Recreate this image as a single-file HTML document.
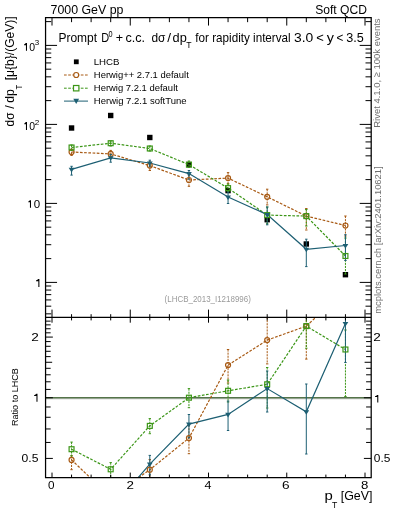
<!DOCTYPE html>
<html><head><meta charset="utf-8"><style>
html,body{margin:0;padding:0;background:#fff;width:393px;height:512px;overflow:hidden}
svg{display:block;will-change:transform}
text{font-family:"Liberation Sans",sans-serif}
</style></head><body>
<svg width="393" height="512" viewBox="0 0 393 512">
<text x="50.57" y="13.7" font-size="12.6" fill="#000" textLength="72.85" lengthAdjust="spacingAndGlyphs">7000 GeV pp</text>
<text x="315.15" y="13.9" font-size="12.6" fill="#000" textLength="51.73" lengthAdjust="spacingAndGlyphs">Soft QCD</text>
<path d="M27.00 43.00V50.80H25.95V45.18H24.06V44.40Q25.35 43.94 25.80 43.00Z" fill="#000"/>
<text x="29.19" y="50.8" font-size="11.55" fill="#000" textLength="5.82" lengthAdjust="spacingAndGlyphs">0</text>
<text x="34.89" y="44.9" font-size="7.98" fill="#000" textLength="4.46" lengthAdjust="spacingAndGlyphs">3</text>
<path d="M27.00 122.10V130.00H25.95V124.31H24.30V123.52Q25.35 123.05 25.80 122.10Z" fill="#000"/>
<text x="29.19" y="130.0" font-size="11.55" fill="#000" textLength="5.82" lengthAdjust="spacingAndGlyphs">0</text>
<text x="34.89" y="124.9" font-size="7.98" fill="#000" textLength="4.52" lengthAdjust="spacingAndGlyphs">2</text>
<path d="M31.00 200.20V207.80H29.95V202.33H28.30V201.57Q29.35 201.11 29.80 200.20Z" fill="#000"/>
<text x="33.75" y="207.8" font-size="11.55" fill="#000" textLength="6.40" lengthAdjust="spacingAndGlyphs">0</text>
<path d="M39.40 279.10V286.90H38.35V281.28H36.00V280.50Q37.75 280.04 38.20 279.10Z" fill="#000"/>
<text x="31.22" y="341.0" font-size="11.55" fill="#000" textLength="7.57" lengthAdjust="spacingAndGlyphs">2</text>
<path d="M37.50 393.70V401.80H36.45V395.97H34.10V395.16Q35.85 394.67 36.30 393.70Z" fill="#000"/>
<text x="21.53" y="462.0" font-size="11.55" fill="#000" textLength="16.88" lengthAdjust="spacingAndGlyphs">0.5</text>
<text x="373.22" y="340.7" font-size="11.55" fill="#000" textLength="7.57" lengthAdjust="spacingAndGlyphs">2</text>
<path d="M378.30 394.90V402.60H377.25V397.06H375.00V396.29Q376.65 395.82 377.10 394.90Z" fill="#000"/>
<text x="373.83" y="462.1" font-size="11.55" fill="#000" textLength="16.57" lengthAdjust="spacingAndGlyphs">0.5</text>
<text x="47.94" y="488.7" font-size="10.92" fill="#000" textLength="6.52" lengthAdjust="spacingAndGlyphs">0</text>
<text x="126.63" y="488.7" font-size="10.92" fill="#000" textLength="7.45" lengthAdjust="spacingAndGlyphs">2</text>
<text x="204.41" y="488.7" font-size="10.92" fill="#000" textLength="6.95" lengthAdjust="spacingAndGlyphs">4</text>
<text x="282.11" y="488.7" font-size="10.92" fill="#000" textLength="7.59" lengthAdjust="spacingAndGlyphs">6</text>
<text x="361.03" y="488.7" font-size="10.92" fill="#000" textLength="7.35" lengthAdjust="spacingAndGlyphs">8</text>
<text x="58.47" y="41.7" font-size="12.18" fill="#000" textLength="38.62" lengthAdjust="spacingAndGlyphs">Prompt</text>
<text x="101.20" y="41.7" font-size="12.18" fill="#000" textLength="7.93" lengthAdjust="spacingAndGlyphs">D</text>
<text x="108.51" y="37.300000000000004" font-size="8.4" fill="#000" textLength="4.07" lengthAdjust="spacingAndGlyphs">0</text>
<text x="115.79" y="41.7" font-size="12.18" fill="#000" textLength="7.33" lengthAdjust="spacingAndGlyphs">+</text>
<text x="125.47" y="41.7" font-size="12.18" fill="#000" textLength="19.58" lengthAdjust="spacingAndGlyphs">c.c.</text>
<text x="151.50" y="41.7" font-size="12.18" fill="#000" textLength="13.98" lengthAdjust="spacingAndGlyphs">dσ</text>
<text x="167.20" y="41.7" font-size="12.18" fill="#000" textLength="3.80" lengthAdjust="spacingAndGlyphs">/</text>
<text x="172.57" y="41.7" font-size="12.18" fill="#000" textLength="14.17" lengthAdjust="spacingAndGlyphs">dp</text>
<text x="186.21" y="48.4" font-size="8.19" fill="#000" textLength="5.29" lengthAdjust="spacingAndGlyphs">T</text>
<text x="195.33" y="41.7" font-size="12.18" fill="#000" textLength="95.35" lengthAdjust="spacingAndGlyphs">for rapidity interval</text>
<text x="294.07" y="41.7" font-size="12.18" fill="#000" textLength="19.27" lengthAdjust="spacingAndGlyphs">3.0</text>
<text x="316.26" y="41.7" font-size="12.18" fill="#000" textLength="7.57" lengthAdjust="spacingAndGlyphs">&lt;</text>
<text x="326.67" y="41.7" font-size="12.18" fill="#000" textLength="7.16" lengthAdjust="spacingAndGlyphs">y</text>
<text x="336.42" y="41.7" font-size="12.18" fill="#000" textLength="6.85" lengthAdjust="spacingAndGlyphs">&lt;</text>
<text x="346.22" y="41.7" font-size="12.18" fill="#000" textLength="17.51" lengthAdjust="spacingAndGlyphs">3.5</text>
<text x="93.71" y="64.9" font-size="9.77" fill="#000" textLength="25.80" lengthAdjust="spacingAndGlyphs">LHCB</text>
<text x="93.83" y="77.9" font-size="9.77" fill="#000" textLength="94.94" lengthAdjust="spacingAndGlyphs">Herwig++ 2.7.1 default</text>
<text x="93.82" y="91.1" font-size="9.77" fill="#000" textLength="84.04" lengthAdjust="spacingAndGlyphs">Herwig 7.2.1 default</text>
<text x="93.82" y="103.9" font-size="9.77" fill="#000" textLength="92.80" lengthAdjust="spacingAndGlyphs">Herwig 7.2.1 softTune</text>
<rect x="73.89999999999999" y="59.4" width="4.8" height="4.8" fill="#000"/>
<path d="M64 75.0H88" stroke="#a85a14" stroke-width="1" stroke-dasharray="2.7 1.5" fill="none"/>
<circle cx="76.2" cy="75.0" r="2.5" fill="#fff" stroke="#a85a14" stroke-width="1.2"/>
<path d="M64 88.2H88" stroke="#3c9618" stroke-width="1" stroke-dasharray="2.7 1.5" fill="none"/>
<rect x="73.5" y="85.5" width="5.4" height="5.4" fill="#fff" stroke="#3c9618" stroke-width="1.2"/>
<path d="M64 101.1H88" stroke="#1d5f73" stroke-width="1" fill="none"/>
<path d="M73.3 98.69999999999999H79.10000000000001L76.2 103.89999999999999Z" fill="#1d5f73"/>
<text transform="translate(380.2 0) rotate(-90)" x="-127.78" y="0" font-size="9.87" fill="#6e6e6e" textLength="109.32" lengthAdjust="spacingAndGlyphs">Rivet 4.1.0, ≥ 100k events</text>
<text transform="translate(380.6 0) rotate(-90)" x="-313.82" y="0" font-size="9.87" fill="#6e6e6e" textLength="147.50" lengthAdjust="spacingAndGlyphs">mcplots.cern.ch [arXiv:2401.10621]</text>
<text transform="translate(13.9 0) rotate(-90)" x="-126.40" y="0" font-size="12.6" fill="#000" textLength="13.88" lengthAdjust="spacingAndGlyphs">dσ</text>
<text transform="translate(13.9 0) rotate(-90)" x="-108.80" y="0" font-size="12.6" fill="#000" textLength="3.60" lengthAdjust="spacingAndGlyphs">/</text>
<text transform="translate(13.9 0) rotate(-90)" x="-102.81" y="0" font-size="12.6" fill="#000" textLength="13.52" lengthAdjust="spacingAndGlyphs">dp</text>
<text transform="translate(21.5 0) rotate(-90)" x="-89.47" y="0" font-size="9.03" fill="#000" textLength="4.75" lengthAdjust="spacingAndGlyphs">T</text>
<text transform="translate(13.9 0) rotate(-90)" x="-80.26" y="0" font-size="12.6" fill="#000" textLength="63.92" lengthAdjust="spacingAndGlyphs">[μ{b}/(GeV)]</text>
<text transform="translate(18.4 0) rotate(-90)" x="-426.04" y="0" font-size="9.45" fill="#000" textLength="57.92" lengthAdjust="spacingAndGlyphs">Ratio to LHCB</text>
<text x="324.44" y="500.3" font-size="12.39" fill="#000" textLength="8.29" lengthAdjust="spacingAndGlyphs">p</text>
<text x="331.91" y="507.8" font-size="8.51" fill="#000" textLength="5.29" lengthAdjust="spacingAndGlyphs">T</text>
<text x="340.71" y="500.3" font-size="12.39" fill="#000" textLength="31.77" lengthAdjust="spacingAndGlyphs">[GeV]</text>
<text x="164.61" y="302.0" font-size="8.29" fill="#9a9a9a" textLength="86.19" lengthAdjust="spacingAndGlyphs">(LHCB_2013_I1218996)</text>
<g>
<rect x="68.86" y="125.30" width="5.4" height="5.4" fill="#000"/>
<rect x="107.99" y="112.80" width="5.4" height="5.4" fill="#000"/>
<rect x="147.11" y="134.80" width="5.4" height="5.4" fill="#000"/>
<rect x="186.24" y="161.90" width="5.4" height="5.4" fill="#000"/>
<rect x="225.36" y="187.90" width="5.4" height="5.4" fill="#000"/>
<rect x="264.49" y="217.00" width="5.4" height="5.4" fill="#000"/>
<rect x="303.61" y="241.30" width="5.4" height="5.4" fill="#000"/>
<rect x="342.74" y="272.00" width="5.4" height="5.4" fill="#000"/>
<polyline points="71.56,152.00 110.69,153.90 149.81,165.60 188.94,180.00 228.06,178.10 267.19,196.80 306.31,216.10 345.44,225.50" fill="none" stroke="#a85a14" stroke-width="1.2" stroke-dasharray="2.7 1.5"/>
<polyline points="71.56,147.50 110.69,143.20 149.81,148.50 188.94,164.60 228.06,188.10 267.19,215.10 306.31,216.10 345.44,256.00" fill="none" stroke="#3c9618" stroke-width="1.2" stroke-dasharray="2.7 1.5"/>
<polyline points="71.56,169.40 110.69,157.80 149.81,163.00 188.94,173.60 228.06,197.00 267.19,214.60 306.31,249.30 345.44,245.50" fill="none" stroke="#1d5f73" stroke-width="1.2" />
<path d="M71.56 149.00V155.50" stroke="#a85a14" stroke-width="1" stroke-dasharray="2.1 1.0" fill="none"/>
<path d="M70.36 149.00H72.76M70.36 155.50H72.76" stroke="#a85a14" stroke-width="1" fill="none"/>
<path d="M110.69 150.40V156.50" stroke="#a85a14" stroke-width="1" stroke-dasharray="2.1 1.0" fill="none"/>
<path d="M109.49 150.40H111.89M109.49 156.50H111.89" stroke="#a85a14" stroke-width="1" fill="none"/>
<path d="M149.81 162.00V170.50" stroke="#a85a14" stroke-width="1" stroke-dasharray="2.1 1.0" fill="none"/>
<path d="M148.61 162.00H151.01M148.61 170.50H151.01" stroke="#a85a14" stroke-width="1" fill="none"/>
<path d="M188.94 175.00V186.30" stroke="#a85a14" stroke-width="1" stroke-dasharray="2.1 1.0" fill="none"/>
<path d="M187.74 175.00H190.14M187.74 186.30H190.14" stroke="#a85a14" stroke-width="1" fill="none"/>
<path d="M228.06 172.60V183.70" stroke="#a85a14" stroke-width="1" stroke-dasharray="2.1 1.0" fill="none"/>
<path d="M226.86 172.60H229.26M226.86 183.70H229.26" stroke="#a85a14" stroke-width="1" fill="none"/>
<path d="M267.19 189.20V204.90" stroke="#a85a14" stroke-width="1" stroke-dasharray="2.1 1.0" fill="none"/>
<path d="M265.99 189.20H268.39M265.99 204.90H268.39" stroke="#a85a14" stroke-width="1" fill="none"/>
<path d="M306.31 208.50V230.00" stroke="#a85a14" stroke-width="1" stroke-dasharray="2.1 1.0" fill="none"/>
<path d="M305.11 208.50H307.51M305.11 230.00H307.51" stroke="#a85a14" stroke-width="1" fill="none"/>
<path d="M345.44 216.00V236.00" stroke="#a85a14" stroke-width="1" stroke-dasharray="2.1 1.0" fill="none"/>
<path d="M344.24 216.00H346.64M344.24 236.00H346.64" stroke="#a85a14" stroke-width="1" fill="none"/>
<path d="M71.56 145.00V150.50" stroke="#3c9618" stroke-width="1" stroke-dasharray="2.1 1.0" fill="none"/>
<path d="M70.36 145.00H72.76M70.36 150.50H72.76" stroke="#3c9618" stroke-width="1" fill="none"/>
<path d="M110.69 141.00V146.00" stroke="#3c9618" stroke-width="1" stroke-dasharray="2.1 1.0" fill="none"/>
<path d="M109.49 141.00H111.89M109.49 146.00H111.89" stroke="#3c9618" stroke-width="1" fill="none"/>
<path d="M149.81 146.00V151.00" stroke="#3c9618" stroke-width="1" stroke-dasharray="2.1 1.0" fill="none"/>
<path d="M148.61 146.00H151.01M148.61 151.00H151.01" stroke="#3c9618" stroke-width="1" fill="none"/>
<path d="M188.94 161.00V167.50" stroke="#3c9618" stroke-width="1" stroke-dasharray="2.1 1.0" fill="none"/>
<path d="M187.74 161.00H190.14M187.74 167.50H190.14" stroke="#3c9618" stroke-width="1" fill="none"/>
<path d="M228.06 184.00V191.50" stroke="#3c9618" stroke-width="1" stroke-dasharray="2.1 1.0" fill="none"/>
<path d="M226.86 184.00H229.26M226.86 191.50H229.26" stroke="#3c9618" stroke-width="1" fill="none"/>
<path d="M267.19 207.00V223.80" stroke="#3c9618" stroke-width="1" stroke-dasharray="2.1 1.0" fill="none"/>
<path d="M265.99 207.00H268.39M265.99 223.80H268.39" stroke="#3c9618" stroke-width="1" fill="none"/>
<path d="M306.31 209.50V226.00" stroke="#3c9618" stroke-width="1" stroke-dasharray="2.1 1.0" fill="none"/>
<path d="M305.11 209.50H307.51M305.11 226.00H307.51" stroke="#3c9618" stroke-width="1" fill="none"/>
<path d="M345.44 238.00V274.00" stroke="#3c9618" stroke-width="1" stroke-dasharray="2.1 1.0" fill="none"/>
<path d="M344.24 238.00H346.64M344.24 274.00H346.64" stroke="#3c9618" stroke-width="1" fill="none"/>
<path d="M71.56 166.30V175.10" stroke="#1d5f73" stroke-width="1"  fill="none"/>
<path d="M70.36 166.30H72.76M70.36 175.10H72.76" stroke="#1d5f73" stroke-width="1" fill="none"/>
<path d="M110.69 154.50V162.20" stroke="#1d5f73" stroke-width="1"  fill="none"/>
<path d="M109.49 154.50H111.89M109.49 162.20H111.89" stroke="#1d5f73" stroke-width="1" fill="none"/>
<path d="M149.81 160.20V167.00" stroke="#1d5f73" stroke-width="1"  fill="none"/>
<path d="M148.61 160.20H151.01M148.61 167.00H151.01" stroke="#1d5f73" stroke-width="1" fill="none"/>
<path d="M188.94 170.50V179.00" stroke="#1d5f73" stroke-width="1"  fill="none"/>
<path d="M187.74 170.50H190.14M187.74 179.00H190.14" stroke="#1d5f73" stroke-width="1" fill="none"/>
<path d="M228.06 192.00V203.50" stroke="#1d5f73" stroke-width="1"  fill="none"/>
<path d="M226.86 192.00H229.26M226.86 203.50H229.26" stroke="#1d5f73" stroke-width="1" fill="none"/>
<path d="M267.19 207.00V224.80" stroke="#1d5f73" stroke-width="1"  fill="none"/>
<path d="M265.99 207.00H268.39M265.99 224.80H268.39" stroke="#1d5f73" stroke-width="1" fill="none"/>
<path d="M306.31 239.20V266.60" stroke="#1d5f73" stroke-width="1"  fill="none"/>
<path d="M305.11 239.20H307.51M305.11 266.60H307.51" stroke="#1d5f73" stroke-width="1" fill="none"/>
<path d="M345.44 234.70V260.50" stroke="#1d5f73" stroke-width="1"  fill="none"/>
<path d="M344.24 234.70H346.64M344.24 260.50H346.64" stroke="#1d5f73" stroke-width="1" fill="none"/>
<circle cx="71.56" cy="152.00" r="2.5" fill="none" stroke="#a85a14" stroke-width="1.2"/>
<circle cx="110.69" cy="153.90" r="2.5" fill="none" stroke="#a85a14" stroke-width="1.2"/>
<circle cx="149.81" cy="165.60" r="2.5" fill="none" stroke="#a85a14" stroke-width="1.2"/>
<circle cx="188.94" cy="180.00" r="2.5" fill="none" stroke="#a85a14" stroke-width="1.2"/>
<circle cx="228.06" cy="178.10" r="2.5" fill="none" stroke="#a85a14" stroke-width="1.2"/>
<circle cx="267.19" cy="196.80" r="2.5" fill="none" stroke="#a85a14" stroke-width="1.2"/>
<circle cx="306.31" cy="216.10" r="2.5" fill="none" stroke="#a85a14" stroke-width="1.2"/>
<circle cx="345.44" cy="225.50" r="2.5" fill="none" stroke="#a85a14" stroke-width="1.2"/>
<rect x="69.11" y="145.05" width="4.9" height="4.9" fill="none" stroke="#3c9618" stroke-width="1.2"/>
<rect x="108.24" y="140.75" width="4.9" height="4.9" fill="none" stroke="#3c9618" stroke-width="1.2"/>
<rect x="147.36" y="146.05" width="4.9" height="4.9" fill="none" stroke="#3c9618" stroke-width="1.2"/>
<rect x="186.49" y="162.15" width="4.9" height="4.9" fill="none" stroke="#3c9618" stroke-width="1.2"/>
<rect x="225.61" y="185.65" width="4.9" height="4.9" fill="none" stroke="#3c9618" stroke-width="1.2"/>
<rect x="264.74" y="212.65" width="4.9" height="4.9" fill="none" stroke="#3c9618" stroke-width="1.2"/>
<rect x="303.86" y="213.65" width="4.9" height="4.9" fill="none" stroke="#3c9618" stroke-width="1.2"/>
<rect x="342.99" y="253.55" width="4.9" height="4.9" fill="none" stroke="#3c9618" stroke-width="1.2"/>
<path d="M68.66 167.80H74.46L71.56 172.40Z" fill="#1d5f73"/>
<path d="M107.79 156.20H113.59L110.69 160.80Z" fill="#1d5f73"/>
<path d="M146.91 161.40H152.71L149.81 166.00Z" fill="#1d5f73"/>
<path d="M186.04 172.00H191.84L188.94 176.60Z" fill="#1d5f73"/>
<path d="M225.16 195.40H230.96L228.06 200.00Z" fill="#1d5f73"/>
<path d="M264.29 213.00H270.09L267.19 217.60Z" fill="#1d5f73"/>
<path d="M303.41 247.70H309.21L306.31 252.30Z" fill="#1d5f73"/>
<path d="M342.54 243.90H348.34L345.44 248.50Z" fill="#1d5f73"/>
</g>
<path d="M45.56 398.8H371.2" stroke="#c4c4c4" stroke-width="1" fill="none"/>
<path d="M45.56 397.75H371.2" stroke="#55744a" stroke-width="1.4" fill="none"/>
<clipPath id="rc"><rect x="45.56" y="317.4" width="325.64" height="160.20000000000005"/></clipPath>
<g clip-path="url(#rc)">
<polyline points="71.56,459.90 110.69,497.20 149.81,469.70 188.94,438.10 228.06,365.10 267.19,340.10 306.31,326.10 345.44,290.00" fill="none" stroke="#a85a14" stroke-width="1.2" stroke-dasharray="2.7 1.5"/>
<polyline points="71.56,449.20 110.69,469.30 149.81,425.90 188.94,397.70 228.06,390.80 267.19,384.30 306.31,326.10 345.44,349.50" fill="none" stroke="#3c9618" stroke-width="1.2" stroke-dasharray="2.7 1.5"/>
<polyline points="71.56,525.00 110.69,509.50 149.81,464.10 188.94,424.10 228.06,414.40 267.19,388.60 306.31,411.80 345.44,323.50" fill="none" stroke="#1d5f73" stroke-width="1.2" />
<path d="M71.56 455.60V469.70" stroke="#a85a14" stroke-width="1" stroke-dasharray="2.1 1.0" fill="none"/>
<path d="M70.36 455.60H72.76M70.36 469.70H72.76" stroke="#a85a14" stroke-width="1" fill="none"/>
<path d="M110.69 480.00V500.00" stroke="#a85a14" stroke-width="1" stroke-dasharray="2.1 1.0" fill="none"/>
<path d="M109.49 480.00H111.89M109.49 500.00H111.89" stroke="#a85a14" stroke-width="1" fill="none"/>
<path d="M149.81 459.50V480.00" stroke="#a85a14" stroke-width="1" stroke-dasharray="2.1 1.0" fill="none"/>
<path d="M148.61 459.50H151.01M148.61 480.00H151.01" stroke="#a85a14" stroke-width="1" fill="none"/>
<path d="M188.94 425.00V453.70" stroke="#a85a14" stroke-width="1" stroke-dasharray="2.1 1.0" fill="none"/>
<path d="M187.74 425.00H190.14M187.74 453.70H190.14" stroke="#a85a14" stroke-width="1" fill="none"/>
<path d="M228.06 349.50V383.00" stroke="#a85a14" stroke-width="1" stroke-dasharray="2.1 1.0" fill="none"/>
<path d="M226.86 349.50H229.26M226.86 383.00H229.26" stroke="#a85a14" stroke-width="1" fill="none"/>
<path d="M267.19 317.00V363.90" stroke="#a85a14" stroke-width="1" stroke-dasharray="2.1 1.0" fill="none"/>
<path d="M265.99 317.00H268.39M265.99 363.90H268.39" stroke="#a85a14" stroke-width="1" fill="none"/>
<path d="M306.31 317.00V359.10" stroke="#a85a14" stroke-width="1" stroke-dasharray="2.1 1.0" fill="none"/>
<path d="M305.11 317.00H307.51M305.11 359.10H307.51" stroke="#a85a14" stroke-width="1" fill="none"/>
<path d="M345.44 300.00V310.00" stroke="#a85a14" stroke-width="1" stroke-dasharray="2.1 1.0" fill="none"/>
<path d="M344.24 300.00H346.64M344.24 310.00H346.64" stroke="#a85a14" stroke-width="1" fill="none"/>
<path d="M71.56 442.10V456.00" stroke="#3c9618" stroke-width="1" stroke-dasharray="2.1 1.0" fill="none"/>
<path d="M70.36 442.10H72.76M70.36 456.00H72.76" stroke="#3c9618" stroke-width="1" fill="none"/>
<path d="M110.69 462.60V478.00" stroke="#3c9618" stroke-width="1" stroke-dasharray="2.1 1.0" fill="none"/>
<path d="M109.49 462.60H111.89M109.49 478.00H111.89" stroke="#3c9618" stroke-width="1" fill="none"/>
<path d="M149.81 418.60V433.70" stroke="#3c9618" stroke-width="1" stroke-dasharray="2.1 1.0" fill="none"/>
<path d="M148.61 418.60H151.01M148.61 433.70H151.01" stroke="#3c9618" stroke-width="1" fill="none"/>
<path d="M188.94 388.60V407.70" stroke="#3c9618" stroke-width="1" stroke-dasharray="2.1 1.0" fill="none"/>
<path d="M187.74 388.60H190.14M187.74 407.70H190.14" stroke="#3c9618" stroke-width="1" fill="none"/>
<path d="M228.06 380.00V402.00" stroke="#3c9618" stroke-width="1" stroke-dasharray="2.1 1.0" fill="none"/>
<path d="M226.86 380.00H229.26M226.86 402.00H229.26" stroke="#3c9618" stroke-width="1" fill="none"/>
<path d="M267.19 367.50V408.00" stroke="#3c9618" stroke-width="1" stroke-dasharray="2.1 1.0" fill="none"/>
<path d="M265.99 367.50H268.39M265.99 408.00H268.39" stroke="#3c9618" stroke-width="1" fill="none"/>
<path d="M306.31 317.00V348.20" stroke="#3c9618" stroke-width="1" stroke-dasharray="2.1 1.0" fill="none"/>
<path d="M305.11 317.00H307.51M305.11 348.20H307.51" stroke="#3c9618" stroke-width="1" fill="none"/>
<path d="M345.44 330.00V396.50" stroke="#3c9618" stroke-width="1" stroke-dasharray="2.1 1.0" fill="none"/>
<path d="M344.24 330.00H346.64M344.24 396.50H346.64" stroke="#3c9618" stroke-width="1" fill="none"/>
<path d="M71.56 500.00V520.00" stroke="#1d5f73" stroke-width="1"  fill="none"/>
<path d="M70.36 500.00H72.76M70.36 520.00H72.76" stroke="#1d5f73" stroke-width="1" fill="none"/>
<path d="M110.69 480.00V500.00" stroke="#1d5f73" stroke-width="1"  fill="none"/>
<path d="M109.49 480.00H111.89M109.49 500.00H111.89" stroke="#1d5f73" stroke-width="1" fill="none"/>
<path d="M149.81 455.40V474.80" stroke="#1d5f73" stroke-width="1"  fill="none"/>
<path d="M148.61 455.40H151.01M148.61 474.80H151.01" stroke="#1d5f73" stroke-width="1" fill="none"/>
<path d="M188.94 414.50V437.70" stroke="#1d5f73" stroke-width="1"  fill="none"/>
<path d="M187.74 414.50H190.14M187.74 437.70H190.14" stroke="#1d5f73" stroke-width="1" fill="none"/>
<path d="M228.06 401.00V430.50" stroke="#1d5f73" stroke-width="1"  fill="none"/>
<path d="M226.86 401.00H229.26M226.86 430.50H229.26" stroke="#1d5f73" stroke-width="1" fill="none"/>
<path d="M267.19 371.00V412.00" stroke="#1d5f73" stroke-width="1"  fill="none"/>
<path d="M265.99 371.00H268.39M265.99 412.00H268.39" stroke="#1d5f73" stroke-width="1" fill="none"/>
<path d="M306.31 384.00V454.00" stroke="#1d5f73" stroke-width="1"  fill="none"/>
<path d="M305.11 384.00H307.51M305.11 454.00H307.51" stroke="#1d5f73" stroke-width="1" fill="none"/>
<path d="M345.44 300.00V362.50" stroke="#1d5f73" stroke-width="1"  fill="none"/>
<path d="M344.24 300.00H346.64M344.24 362.50H346.64" stroke="#1d5f73" stroke-width="1" fill="none"/>
<circle cx="71.56" cy="459.90" r="2.5" fill="none" stroke="#a85a14" stroke-width="1.2"/>
<circle cx="110.69" cy="497.20" r="2.5" fill="none" stroke="#a85a14" stroke-width="1.2"/>
<circle cx="149.81" cy="469.70" r="2.5" fill="none" stroke="#a85a14" stroke-width="1.2"/>
<circle cx="188.94" cy="438.10" r="2.5" fill="none" stroke="#a85a14" stroke-width="1.2"/>
<circle cx="228.06" cy="365.10" r="2.5" fill="none" stroke="#a85a14" stroke-width="1.2"/>
<circle cx="267.19" cy="340.10" r="2.5" fill="none" stroke="#a85a14" stroke-width="1.2"/>
<circle cx="306.31" cy="326.10" r="2.5" fill="none" stroke="#a85a14" stroke-width="1.2"/>
<circle cx="345.44" cy="290.00" r="2.5" fill="none" stroke="#a85a14" stroke-width="1.2"/>
<rect x="69.11" y="446.75" width="4.9" height="4.9" fill="none" stroke="#3c9618" stroke-width="1.2"/>
<rect x="108.24" y="466.85" width="4.9" height="4.9" fill="none" stroke="#3c9618" stroke-width="1.2"/>
<rect x="147.36" y="423.45" width="4.9" height="4.9" fill="none" stroke="#3c9618" stroke-width="1.2"/>
<rect x="186.49" y="395.25" width="4.9" height="4.9" fill="none" stroke="#3c9618" stroke-width="1.2"/>
<rect x="225.61" y="388.35" width="4.9" height="4.9" fill="none" stroke="#3c9618" stroke-width="1.2"/>
<rect x="264.74" y="381.85" width="4.9" height="4.9" fill="none" stroke="#3c9618" stroke-width="1.2"/>
<rect x="303.86" y="323.65" width="4.9" height="4.9" fill="none" stroke="#3c9618" stroke-width="1.2"/>
<rect x="342.99" y="347.05" width="4.9" height="4.9" fill="none" stroke="#3c9618" stroke-width="1.2"/>
<path d="M68.66 523.40H74.46L71.56 528.00Z" fill="#1d5f73"/>
<path d="M107.79 507.90H113.59L110.69 512.50Z" fill="#1d5f73"/>
<path d="M146.91 462.50H152.71L149.81 467.10Z" fill="#1d5f73"/>
<path d="M186.04 422.50H191.84L188.94 427.10Z" fill="#1d5f73"/>
<path d="M225.16 412.80H230.96L228.06 417.40Z" fill="#1d5f73"/>
<path d="M264.29 387.00H270.09L267.19 391.60Z" fill="#1d5f73"/>
<path d="M303.41 410.20H309.21L306.31 414.80Z" fill="#1d5f73"/>
<path d="M342.54 321.90H348.34L345.44 326.50Z" fill="#1d5f73"/>
</g>
<path d="M45.56 313.84L51.26 313.84M371.20 313.84L365.50 313.84M45.56 306.18L51.26 306.18M371.20 306.18L365.50 306.18M45.56 299.93L51.26 299.93M371.20 299.93L365.50 299.93M45.56 294.64L51.26 294.64M371.20 294.64L365.50 294.64M45.56 290.06L51.26 290.06M371.20 290.06L365.50 290.06M45.56 286.01L51.26 286.01M371.20 286.01L365.50 286.01M45.56 282.40L57.06 282.40M371.20 282.40L359.70 282.40M45.56 258.62L51.26 258.62M371.20 258.62L365.50 258.62M45.56 244.71L51.26 244.71M371.20 244.71L365.50 244.71M45.56 234.84L51.26 234.84M371.20 234.84L365.50 234.84M45.56 227.18L51.26 227.18M371.20 227.18L365.50 227.18M45.56 220.93L51.26 220.93M371.20 220.93L365.50 220.93M45.56 215.64L51.26 215.64M371.20 215.64L365.50 215.64M45.56 211.06L51.26 211.06M371.20 211.06L365.50 211.06M45.56 207.01L51.26 207.01M371.20 207.01L365.50 207.01M45.56 203.40L57.06 203.40M371.20 203.40L359.70 203.40M45.56 179.62L51.26 179.62M371.20 179.62L365.50 179.62M45.56 165.71L51.26 165.71M371.20 165.71L365.50 165.71M45.56 155.84L51.26 155.84M371.20 155.84L365.50 155.84M45.56 148.18L51.26 148.18M371.20 148.18L365.50 148.18M45.56 141.93L51.26 141.93M371.20 141.93L365.50 141.93M45.56 136.64L51.26 136.64M371.20 136.64L365.50 136.64M45.56 132.06L51.26 132.06M371.20 132.06L365.50 132.06M45.56 128.01L51.26 128.01M371.20 128.01L365.50 128.01M45.56 124.40L57.06 124.40M371.20 124.40L359.70 124.40M45.56 100.62L51.26 100.62M371.20 100.62L365.50 100.62M45.56 86.71L51.26 86.71M371.20 86.71L365.50 86.71M45.56 76.84L51.26 76.84M371.20 76.84L365.50 76.84M45.56 69.18L51.26 69.18M371.20 69.18L365.50 69.18M45.56 62.93L51.26 62.93M371.20 62.93L365.50 62.93M45.56 57.64L51.26 57.64M371.20 57.64L365.50 57.64M45.56 53.06L51.26 53.06M371.20 53.06L365.50 53.06M45.56 49.01L51.26 49.01M371.20 49.01L365.50 49.01M45.56 45.40L57.06 45.40M371.20 45.40L359.70 45.40M45.56 21.62L51.26 21.62M371.20 21.62L365.50 21.62M45.56 458.41L52.86 458.41M371.20 458.41L363.90 458.41M45.56 442.45L50.66 442.45M371.20 442.45L366.10 442.45M45.56 428.96L50.66 428.96M371.20 428.96L366.10 428.96M45.56 417.28L50.66 417.28M371.20 417.28L366.10 417.28M45.56 406.97L50.66 406.97M371.20 406.97L366.10 406.97M45.56 397.75L52.86 397.75M371.20 397.75L363.90 397.75M45.56 389.41L50.66 389.41M371.20 389.41L366.10 389.41M45.56 381.79L50.66 381.79M371.20 381.79L366.10 381.79M45.56 374.79L50.66 374.79M371.20 374.79L366.10 374.79M45.56 368.31L50.66 368.31M371.20 368.31L366.10 368.31M45.56 362.27L52.16 362.27M371.20 362.27L364.60 362.27M45.56 356.62L50.66 356.62M371.20 356.62L366.10 356.62M45.56 351.31L50.66 351.31M371.20 351.31L366.10 351.31M45.56 346.31L50.66 346.31M371.20 346.31L366.10 346.31M45.56 341.58L50.66 341.58M371.20 341.58L366.10 341.58M45.56 337.09L52.86 337.09M371.20 337.09L363.90 337.09M45.56 332.82L50.66 332.82M371.20 332.82L366.10 332.82M45.56 328.75L50.66 328.75M371.20 328.75L366.10 328.75M45.56 324.86L50.66 324.86M371.20 324.86L366.10 324.86M45.56 321.14L50.66 321.14M371.20 321.14L366.10 321.14M52.00 17.56L52.00 25.56M52.00 317.40L52.00 309.60M52.00 317.40L52.00 322.70M52.00 477.60L52.00 472.60M71.56 17.56L71.56 22.16M71.56 317.40L71.56 314.20M71.56 317.40L71.56 320.40M71.56 477.60L71.56 474.60M91.12 17.56L91.12 22.16M91.12 317.40L91.12 314.20M91.12 317.40L91.12 320.40M91.12 477.60L91.12 474.60M110.69 17.56L110.69 22.16M110.69 317.40L110.69 314.20M110.69 317.40L110.69 320.40M110.69 477.60L110.69 474.60M130.25 17.56L130.25 25.56M130.25 317.40L130.25 309.60M130.25 317.40L130.25 322.70M130.25 477.60L130.25 472.60M149.81 17.56L149.81 22.16M149.81 317.40L149.81 314.20M149.81 317.40L149.81 320.40M149.81 477.60L149.81 474.60M169.38 17.56L169.38 22.16M169.38 317.40L169.38 314.20M169.38 317.40L169.38 320.40M169.38 477.60L169.38 474.60M188.94 17.56L188.94 22.16M188.94 317.40L188.94 314.20M188.94 317.40L188.94 320.40M188.94 477.60L188.94 474.60M208.50 17.56L208.50 25.56M208.50 317.40L208.50 309.60M208.50 317.40L208.50 322.70M208.50 477.60L208.50 472.60M228.06 17.56L228.06 22.16M228.06 317.40L228.06 314.20M228.06 317.40L228.06 320.40M228.06 477.60L228.06 474.60M247.62 17.56L247.62 22.16M247.62 317.40L247.62 314.20M247.62 317.40L247.62 320.40M247.62 477.60L247.62 474.60M267.19 17.56L267.19 22.16M267.19 317.40L267.19 314.20M267.19 317.40L267.19 320.40M267.19 477.60L267.19 474.60M286.75 17.56L286.75 25.56M286.75 317.40L286.75 309.60M286.75 317.40L286.75 322.70M286.75 477.60L286.75 472.60M306.31 17.56L306.31 22.16M306.31 317.40L306.31 314.20M306.31 317.40L306.31 320.40M306.31 477.60L306.31 474.60M325.88 17.56L325.88 22.16M325.88 317.40L325.88 314.20M325.88 317.40L325.88 320.40M325.88 477.60L325.88 474.60M345.44 17.56L345.44 22.16M345.44 317.40L345.44 314.20M345.44 317.40L345.44 320.40M345.44 477.60L345.44 474.60M365.00 17.56L365.00 25.56M365.00 317.40L365.00 309.60M365.00 317.40L365.00 322.70M365.00 477.60L365.00 472.60" fill="none" stroke="#000" stroke-width="1"/>
<path d="M45.56 17.56H371.2V477.6H45.56Z M45.56 317.4H371.2" fill="none" stroke="#000" stroke-width="1.25"/>
</svg>
</body></html>
